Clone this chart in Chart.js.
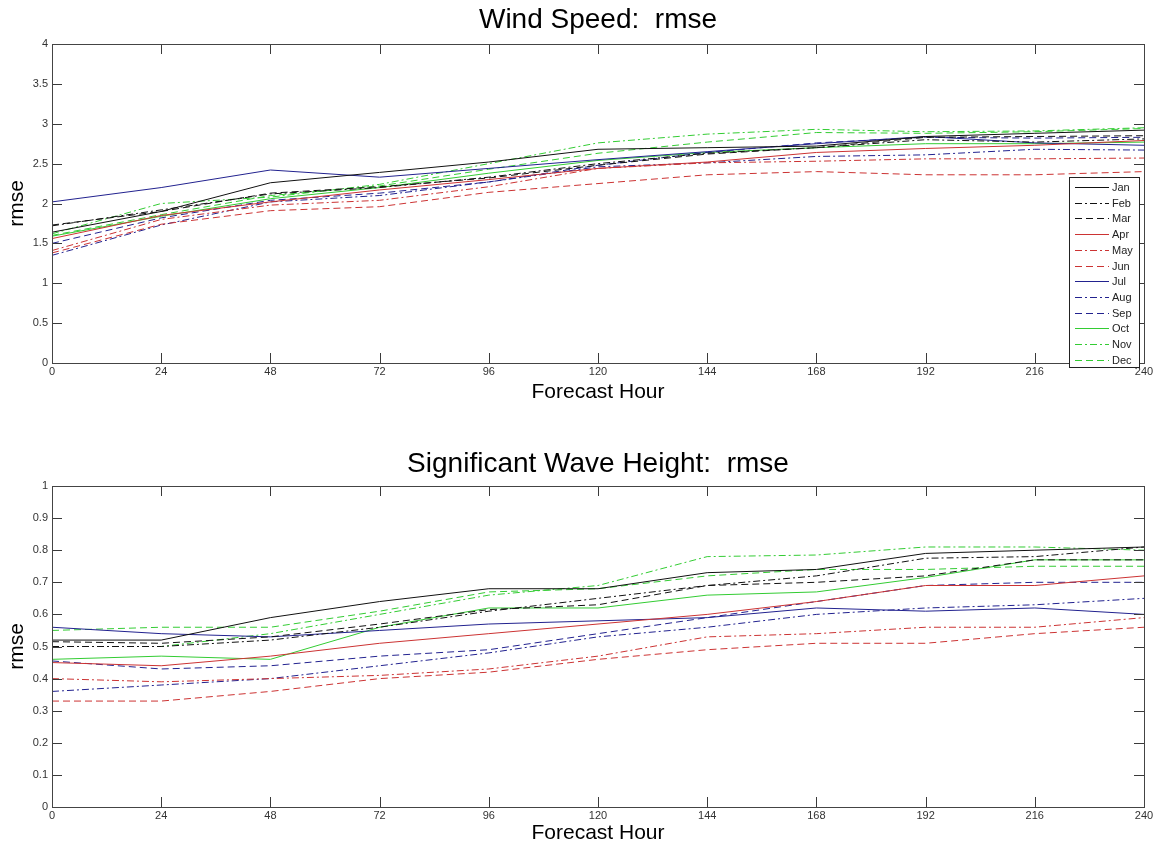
<!DOCTYPE html>
<html><head><meta charset="utf-8">
<script src="https://cdn.jsdelivr.net/npm/chart.js@4"></script>
<style>
html,body{margin:0;padding:0;background:#fff;}
#wrap{position:relative;width:1161px;height:850px;background:#fff;}
canvas{position:absolute;left:0;}
</style></head><body>
<div id="wrap">
<canvas id="c1" width="1161" height="425" style="top:0"></canvas>
<canvas id="c2" width="1161" height="425" style="top:425px"></canvas>
</div>
<script>
// ---------- data ----------
const hours = [0, 24, 48, 72, 96, 120, 144, 168, 192, 216, 240];
const months = ['Jan','Feb','Mar','Apr','May','Jun','Jul','Aug','Sep','Oct','Nov','Dec'];
const windTicks = [0, 0.5, 1, 1.5, 2, 2.5, 3, 3.5, 4];
const waveTicks = [0, 0.1, 0.2, 0.3, 0.4, 0.5, 0.6, 0.7, 0.8, 0.9, 1];

// Wind Speed rmse
const wsJan = [1.64, 1.90, 2.26, 2.39, 2.52, 2.68, 2.70, 2.72, 2.84, 2.88, 2.92];
const wsFeb = [1.72, 1.92, 2.12, 2.20, 2.33, 2.50, 2.63, 2.70, 2.80, 2.77, 2.81];
const wsMar = [1.73, 1.90, 2.13, 2.21, 2.32, 2.48, 2.62, 2.70, 2.83, 2.84, 2.85];
const wsApr = [1.56, 1.85, 2.02, 2.17, 2.30, 2.44, 2.52, 2.64, 2.69, 2.73, 2.79];
const wsMay = [1.41, 1.80, 1.98, 2.04, 2.21, 2.44, 2.51, 2.53, 2.56, 2.56, 2.57];
const wsJun = [1.38, 1.74, 1.91, 1.96, 2.14, 2.25, 2.36, 2.40, 2.36, 2.36, 2.40];
const wsJul = [2.02, 2.20, 2.42, 2.33, 2.44, 2.55, 2.65, 2.75, 2.84, 2.76, 2.73];
const wsAug = [1.35, 1.73, 2.02, 2.10, 2.27, 2.46, 2.51, 2.59, 2.61, 2.68, 2.67];
const wsSep = [1.50, 1.82, 2.04, 2.13, 2.27, 2.48, 2.64, 2.76, 2.83, 2.82, 2.83];
const wsOct = [1.59, 1.84, 2.06, 2.20, 2.38, 2.54, 2.64, 2.70, 2.75, 2.75, 2.77];
const wsNov = [1.62, 2.00, 2.08, 2.24, 2.50, 2.76, 2.87, 2.93, 2.90, 2.91, 2.95];
const wsDec = [1.60, 1.86, 2.10, 2.22, 2.43, 2.63, 2.77, 2.89, 2.88, 2.90, 2.94];

// Significant Wave Height rmse
const hsJan = [0.52, 0.52, 0.59, 0.64, 0.68, 0.68, 0.73, 0.74, 0.79, 0.80, 0.81];
const hsFeb = [0.50, 0.50, 0.52, 0.56, 0.61, 0.65, 0.69, 0.72, 0.775, 0.78, 0.81];
const hsMar = [0.515, 0.51, 0.53, 0.57, 0.615, 0.63, 0.69, 0.70, 0.72, 0.77, 0.77];
const hsApr = [0.45, 0.44, 0.47, 0.51, 0.54, 0.57, 0.60, 0.64, 0.69, 0.69, 0.72];
const hsMay = [0.40, 0.39, 0.40, 0.41, 0.43, 0.47, 0.53, 0.54, 0.56, 0.56, 0.59];
const hsJun = [0.33, 0.33, 0.36, 0.40, 0.42, 0.46, 0.49, 0.51, 0.51, 0.54, 0.56];
const hsJul = [0.56, 0.54, 0.53, 0.55, 0.57, 0.58, 0.59, 0.62, 0.61, 0.62, 0.60];
const hsAug = [0.36, 0.38, 0.40, 0.44, 0.48, 0.53, 0.56, 0.60, 0.62, 0.63, 0.65];
const hsSep = [0.455, 0.43, 0.44, 0.47, 0.49, 0.54, 0.59, 0.64, 0.69, 0.70, 0.70];
const hsOct = [0.46, 0.47, 0.46, 0.56, 0.62, 0.62, 0.66, 0.67, 0.715, 0.77, 0.77];
const hsNov = [0.50, 0.50, 0.54, 0.60, 0.66, 0.69, 0.78, 0.785, 0.81, 0.81, 0.80];
const hsDec = [0.55, 0.56, 0.56, 0.61, 0.67, 0.68, 0.72, 0.74, 0.74, 0.75, 0.75];

const windSeries = [wsJan, wsFeb, wsMar, wsApr, wsMay, wsJun, wsJul, wsAug, wsSep, wsOct, wsNov, wsDec];
const waveSeries = [hsJan, hsFeb, hsMar, hsApr, hsMay, hsJun, hsJul, hsAug, hsSep, hsOct, hsNov, hsDec];

// ---------- styles ----------
const FONT = "'Liberation Sans', Arial, Helvetica, sans-serif";
const groupColors = ['#111111', '#cc3333', '#22228f', '#33cc33'];
const dashes = [[], [7, 3, 2, 3], [7, 4]];
const monthColor = months.map((m, i) => groupColors[Math.floor(i / 3)]);
const monthDash = months.map((m, i) => dashes[i % 3]);

function makeDatasets(series) {
  return months.map((m, i) => ({
    label: m,
    data: hours.map((h, j) => ({ x: h, y: series[i][j] })),
    borderColor: monthColor[i],
    borderDash: monthDash[i],
    borderWidth: 1,
    pointRadius: 0,
    fill: false,
    tension: 0
  }));
}

const frameTicks = {
  id: 'frameTicks',
  afterDatasetsDraw(chart) {
    const { ctx, chartArea: a, scales: { x, y } } = chart;
    ctx.save();
    ctx.strokeStyle = '#3a3a3a';
    ctx.lineWidth = 1;
    ctx.setLineDash([]);
    ctx.beginPath();
    x.ticks.forEach(t => {
      const px = Math.round(x.getPixelForValue(t.value)) + 0.5;
      ctx.moveTo(px, a.bottom); ctx.lineTo(px, a.bottom - 10);
      ctx.moveTo(px, a.top); ctx.lineTo(px, a.top + 10);
    });
    y.ticks.forEach(t => {
      const py = Math.round(y.getPixelForValue(t.value)) + 0.5;
      ctx.moveTo(a.left, py); ctx.lineTo(a.left + 10, py);
      ctx.moveTo(a.right, py); ctx.lineTo(a.right - 10, py);
    });
    ctx.stroke();
    ctx.strokeStyle = '#444';
    ctx.strokeRect(Math.round(a.left) + 0.5, Math.round(a.top) + 0.5,
      Math.round(a.right - a.left), Math.round(a.bottom - a.top));
    ctx.restore();
  }
};

const legendBox = {
  id: 'legendBox',
  afterDraw(chart, args, opts) {
    if (!opts || !opts.show) return;
    const { ctx, chartArea: a } = chart;
    const rowH = 15.7, w = 70, h = 190;
    const right = Math.round(a.right - 5), bottom = Math.round(a.bottom + 4);
    const left = right - w, top = bottom - h;
    ctx.save();
    ctx.fillStyle = '#fff';
    ctx.fillRect(left, top, w, h);
    ctx.strokeStyle = '#222';
    ctx.lineWidth = 1;
    ctx.strokeRect(left + 0.5, top + 0.5, w, h);
    ctx.font = '11px ' + FONT;
    ctx.textBaseline = 'middle';
    chart.data.datasets.forEach((d, i) => {
      const yy = Math.round(top + 10 + i * rowH) + 0.5;
      ctx.strokeStyle = d.borderColor;
      ctx.setLineDash(d.borderDash || []);
      ctx.beginPath(); ctx.moveTo(left + 6, yy); ctx.lineTo(left + 40, yy); ctx.stroke();
      ctx.setLineDash([]);
      ctx.fillStyle = '#222';
      ctx.fillText(d.label, left + 43, yy);
    });
    ctx.restore();
  }
};

function makeChart(id, series, yTicks, title, cfg) {
  return new Chart(document.getElementById(id), {
    type: 'line',
    data: { datasets: makeDatasets(series) },
    options: {
      responsive: false,
      animation: false,
      devicePixelRatio: 1,
      layout: { padding: { left: 0, right: 17, top: 0, bottom: 0 } },
      plugins: {
        legend: { display: false },
        tooltip: { enabled: false },
        legendBox: { show: cfg.legend },
        title: {
          display: true, text: title, fullSize: false, align: 'center',
          font: { family: FONT, size: 28, weight: 'normal', lineHeight: 1.2 },
          color: '#000',
          padding: { top: cfg.titleTop, bottom: cfg.titleBottom }
        }
      },
      scales: {
        x: {
          type: 'linear', min: hours[0], max: hours[hours.length - 1],
          afterBuildTicks: s => { s.ticks = hours.map(v => ({ value: v })); },
          afterFit: s => { s.height = cfg.xHeight; },
          grid: { display: false, drawTicks: false },
          border: { display: false },
          ticks: { font: { family: FONT, size: 11 }, color: '#333', padding: 2, maxRotation: 0, autoSkip: false,
            callback: v => String(v) },
          title: { display: true, text: 'Forecast Hour', color: '#000',
            font: { family: FONT, size: 21, lineHeight: 1.2 },
            padding: { top: 0, bottom: cfg.xTitleBottom } }
        },
        y: {
          type: 'linear', min: yTicks[0], max: yTicks[yTicks.length - 1],
          afterBuildTicks: s => { s.ticks = yTicks.map(v => ({ value: v })); },
          afterFit: s => { s.width = 52; },
          grid: { display: false, drawTicks: false },
          border: { display: false },
          ticks: { font: { family: FONT, size: 11 }, color: '#333', padding: 4, autoSkip: false,
            callback: v => String(v) },
          title: { display: true, text: 'rmse', color: '#000',
            font: { family: FONT, size: 21, lineHeight: 1.2 },
            padding: { top: 5, bottom: 0 } }
        }
      }
    },
    plugins: [frameTicks, legendBox]
  });
}

makeChart('c1', windSeries, windTicks, 'Wind Speed:  rmse',
  { titleTop: 3.7, titleBottom: 6.7, xHeight: 62, xTitleBottom: 20.4, legend: true });
makeChart('c2', waveSeries, waveTicks, 'Significant Wave Height:  rmse',
  { titleTop: 22.2, titleBottom: 5.2, xHeight: 43, xTitleBottom: 4.4, legend: false });
</script>
</body></html>
